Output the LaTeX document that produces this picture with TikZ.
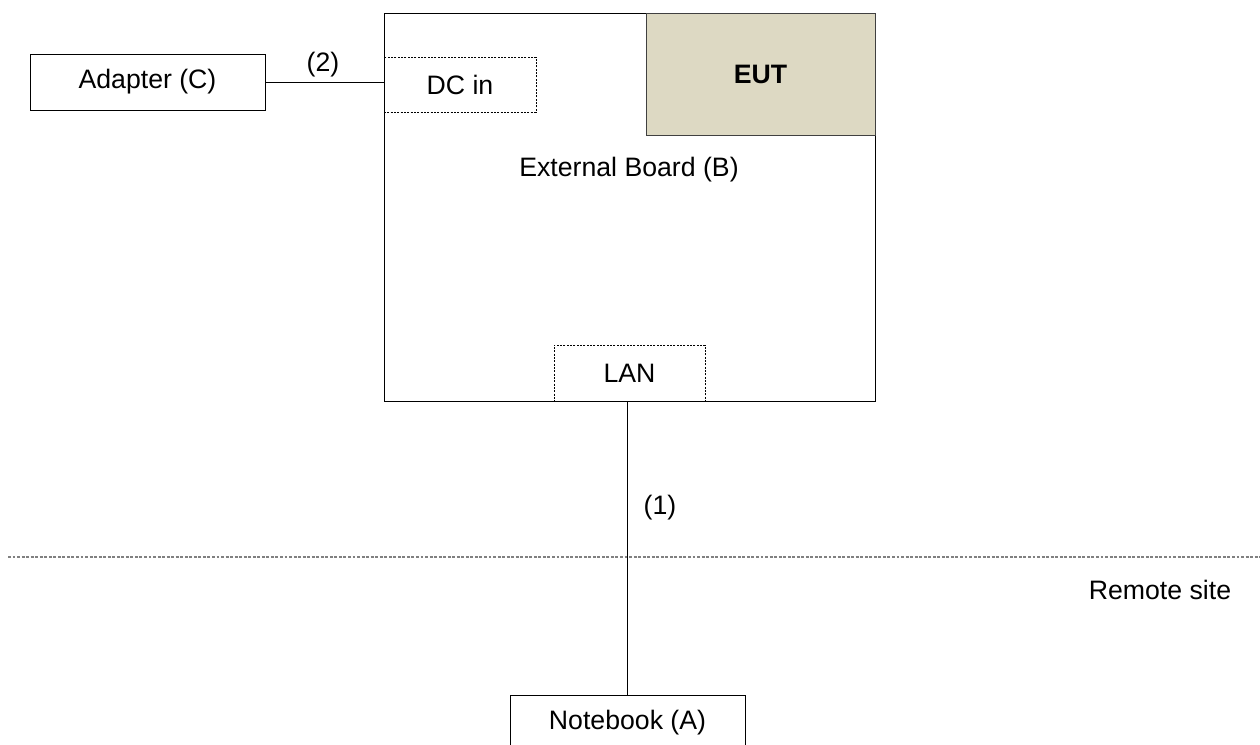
\documentclass[tikz,border=0pt]{standalone}
\usepackage{fontspec}
\setmainfont{Liberation Sans}
\definecolor{eutfill}{HTML}{DDD9C3}
\definecolor{sep}{HTML}{808080}
\tikzset{
  box/.style={draw=black, line width=0.75pt, inner sep=0pt, minimum width=176.25pt, minimum height=42pt},
  port/.style={draw=black, line width=0.6pt, dash pattern=on 1.5pt off 1pt, inner sep=0pt},
  wire/.style={draw=black, line width=0.75pt},
  lbl/.style={inner sep=0pt},
}
\begin{document}
\begin{tikzpicture}[x=0.75pt, y=-0.75pt, font=\fontsize{20}{24}\selectfont]
\useasboundingbox (0,0) rectangle (1260,744);
% board
\node[draw=black, line width=0.75pt, minimum width=368.25pt, minimum height=291pt, inner sep=0pt] (board) at (629.5,207) {};
\node[draw=black!75, fill=eutfill, line width=0.75pt, minimum width=171.75pt, minimum height=91.5pt, inner sep=0pt] (eut) at (760.5,74) {\bfseries EUT};
\node[lbl] (boardlbl) at (629,170) {External Board (B)};
\node[port, minimum width=114pt, minimum height=41.25pt] (dcin) at (460,84.5) {DC in};
\node[port, minimum width=113.25pt, minimum height=42pt] (lan) at (629.5,373) {LAN};
% external devices
\node[box] (adapter) at (147.5,82) {Adapter (C)};
\node[box] (nb) at (627.5,723) {Notebook (A)};
% connectors
\draw[wire] (adapter.east) -- (adapter.east -| dcin.west);
\draw[wire] (lan.south -| nb.north) -- (nb.north);
\node[lbl] (l2) at (323,65) {(2)};
\node[lbl] (l1) at (660,508) {(1)};
% remote site separator
\coordinate (sepL) at (8,557);
\coordinate (sepR) at (1260,557);
\draw[sep, line width=0.9pt, dash pattern=on 2.2pt off 1.2pt] (sepL) -- (sepR);
\node[lbl] (remote) at (1160,590) {Remote site};
\end{tikzpicture}
\end{document}
